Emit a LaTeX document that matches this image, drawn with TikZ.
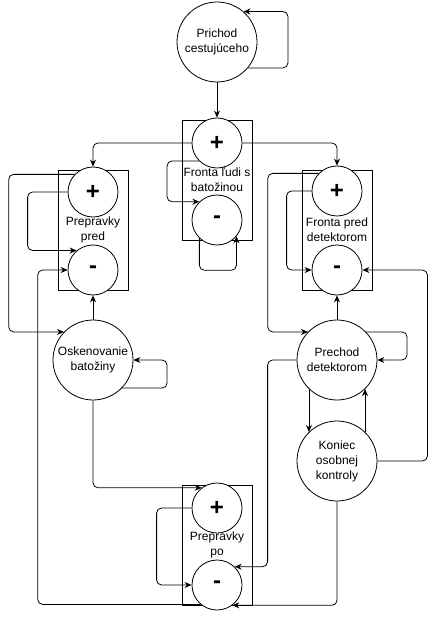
\documentclass[tikz,border=0pt]{standalone}
\usepackage{fontspec}
\setmainfont{Liberation Sans}
\usepackage{tikz}
\usetikzlibrary{arrows.meta}

\tikzset{
	stav/.style={draw, circle, fill=white, minimum size=80pt, inner sep=0pt, align=center, font=\fontsize{12}{15}\selectfont},
	znak/.style={draw, circle, fill=white, minimum size=50pt, inner sep=0pt, font=\fontsize{24}{24}\selectfont\bfseries},
	fronta/.style={draw, rectangle, minimum width=70pt, minimum height=120pt, inner sep=0pt, align=center, font=\fontsize{12}{15}\selectfont},
	sip/.style={line width=0.8pt, -{Stealth[length=7pt,width=6pt]}, rounded corners=5pt}
}

\begin{document}
\begin{tikzpicture}[x=1pt, y=-1pt, line width=0.8pt]
		\useasboundingbox (0,0) rectangle (437,617);
		% fronty
		\node[fronta](fBox)at(217,180){Fronta ľudi s\\batožinou};
		\node[fronta](pBox)at(93,230){Prepravky\\pred};
		\node[fronta](dBox)at(337,230){Fronta pred\\detektorom};
		\node[fronta](poBox)at(217,545){Prepravky\\po};
		% stavy
		\node[stav](prichod)at(217,42){Prichod\\cestujúceho};
		\node[stav](osk)at(93,360){Oskenovanie\\batožiny};
		\node[stav](prechod)at(337,360){Prechod\\detektorom};
		\node[stav](koniec)at(337,461){Koniec\\osobnej\\kontroly};
		% plus a minus
		\node[znak](fPlus)at(217,143){+};
		\node[znak](fMinus)at(217,220){-};
		\node[znak](pPlus)at(93,192){+};
		\node[znak](pMinus)at(93,270){-};
		\node[znak](dPlus)at(337,191){+};
		\node[znak](dMinus)at(337,270){-};
		\node[znak](poPlus)at(217,508){+};
		\node[znak](poMinus)at(217,585){-};
		% spojenia
		\draw[sip](prichod.-40)--++(40,0)|-(prichod.49);
		\draw[sip](prichod)--(fPlus);
		\draw[sip](fPlus.west)-|(pPlus.north);
		\draw[sip](fPlus.east)-|(dPlus.north);
		\draw[sip](fPlus.225)--++(-32,0)|-(fMinus.134);
		\draw[sip](fMinus.-134)--++(0,32)-|(fMinus.-40);
		\draw[sip](pPlus.136)--++(-66,0)|-(osk.136);
		\draw[sip](pPlus.west)--++(-40,0)|-(pMinus.130);
		\draw[sip](poMinus.230)--++(-163,0)|-(pMinus.west);
		\draw[sip](osk)--(pMinus);
		\draw[sip](osk.-44)--++(45,0)|-(osk.east);
		\draw[sip](osk.south)|-(poPlus.127);
		\draw[sip](dPlus.136)--++(-51,0)|-(prechod.136);
		\draw[sip](dPlus.west)--++(-25,0)|-(dMinus.west);
		\draw[sip](koniec.east)--++(50,0)|-(dMinus.east);
		\draw[sip](prechod)--(dMinus);
		\draw[sip](prechod.44)--++(41,0)|-(prechod.east);
		\draw[sip](prechod.west)--++(-29,0)|-(poMinus.46);
		\draw[sip](prechod.-134)--(koniec.134);
		\draw[sip](koniec.46)--(prechod.-46);
		\draw[sip](koniec.south)|-(poMinus.-53);
		\draw[sip](poPlus.west)--++(-35,0)|-(poMinus.west);
	\end{tikzpicture}
\end{document}
